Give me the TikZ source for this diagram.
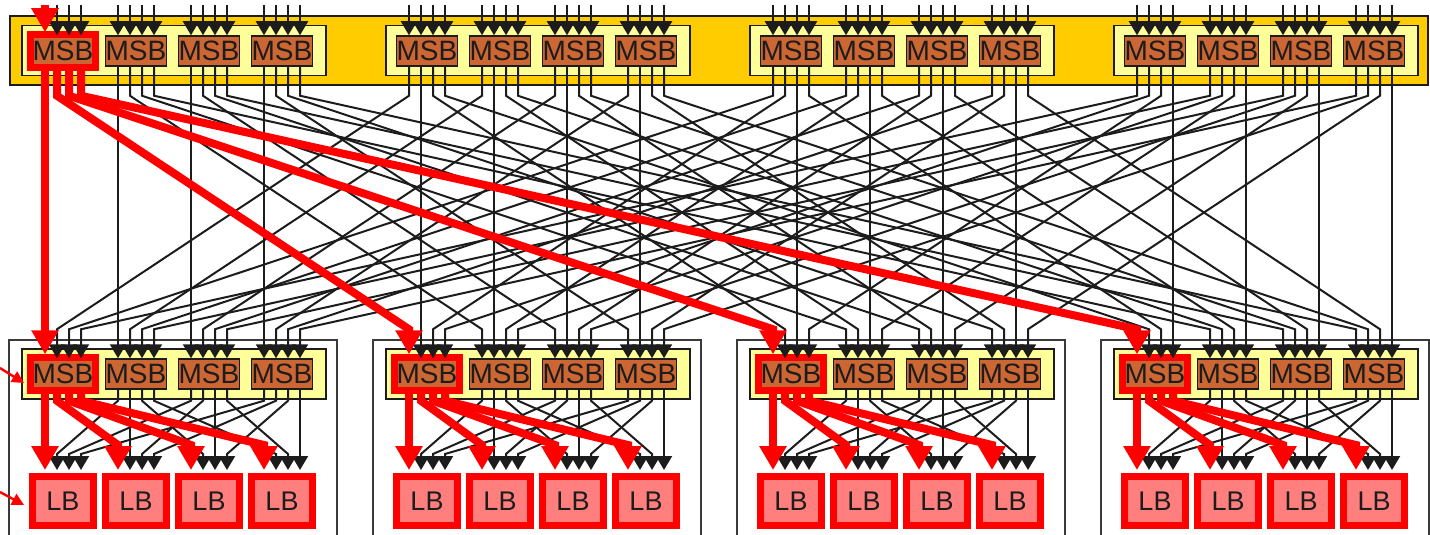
\documentclass[tikz,border=0pt]{standalone}
\usepackage{fontspec}
\setmainfont{Liberation Sans}
\usepackage{tikz}
\usetikzlibrary{arrows.meta,positioning,calc,fit}
\definecolor{Ink}{HTML}{1C1C1C}
\definecolor{Frame}{HTML}{3A3A3A}
\definecolor{Gold}{HTML}{FFCC00}
\definecolor{Pale}{HTML}{FFFF99}
\definecolor{Brick}{HTML}{CC6633}
\definecolor{Hot}{HTML}{FF0000}
\definecolor{Blush}{HTML}{FF7F7F}
\tikzset{
  bar/.style={draw=Ink,fill=Gold,line width=.75pt,minimum width=709pt,minimum height=34.5pt,inner sep=0pt},
  group/.style={draw=Ink,fill=Pale,line width=.75pt,minimum width=152pt,minimum height=25pt,inner sep=0pt},
  cluster/.style={draw=Frame,line width=.75pt},
  msb/.style={draw=Ink,fill=Brick,line width=.75pt,minimum width=30pt,minimum height=15pt,inner sep=0pt,text=Ink,font=\fontsize{14pt}{16pt}\selectfont},
  lb/.style={draw=Hot,fill=Blush,line width=3.5pt,minimum width=30.5pt,minimum height=24.5pt,inner sep=0pt,text=Ink,font=\fontsize{13.5pt}{16pt}\selectfont},
  hilite/.style={draw=Hot,line width=3.5pt,inner sep=.5pt},
  wire/.style={-{Triangle[length=7pt,width=8pt]},draw=Ink,line width=1pt},
  hotwire/.style={-{Triangle[length=12pt,width=13pt]},draw=Hot,line width=4pt},
  pointer/.style={-{Triangle[length=6pt,width=6pt]},draw=Hot,line width=1.2pt}
}
\begin{document}
\begin{tikzpicture}[x=.5pt,y=-.5pt]
  \clip (0,0) rectangle (1430,535);
  % top stage and the four clusters
  \node[bar] (top) at (719,50.5) {};
  \foreach \g in {0,...,3}{
    \pgfmathsetmacro{\gx}{22+364*\g}
    \draw[cluster] (\gx-13,340) rectangle (\gx+315,560);
    \node[group] (tgrp-\g) at (\gx+152,50.5) {};
    \node[group] (bgrp-\g) at (\gx+152,374) {};
    \foreach \m in {0,...,3}{
      \node[msb] (tmsb-\g-\m) at (\gx+41+73*\m,51) {MSB};
      \node[msb] (bmsb-\g-\m) at (\gx+41+73*\m,374) {MSB};
      \node[lb] (lb-\g-\m) at (\gx+41+73*\m,501) {LB};
      \coordinate (tin-\g-\m) at (\gx+41+73*\m,5);
    }
  }
  \node[hilite,fit=(tmsb-0-0)] (hl-top) {};
  \foreach \c in {0,...,3}
    \node[hilite,fit=(bmsb-\c-0)] (hl-\c) {};

  % black wires
  \foreach \g in {0,...,3}
  \foreach \m in {0,...,3}
  \foreach \k in {0,...,3}{
    \ifnum\g\m\k=0 \else
      \draw[wire] ($(tin-\g-\m)+(12*\k-18,0)$) -- ($(tmsb-\g-\m.north)+(12*\k-18,0)$);
    \fi
    \ifnum\g\m=0 \else
      \draw[wire] ($(tmsb-\g-\m.south)+(12*\k-18,0)$) -- ++(0,29)
        -- ($(bmsb-\k-\m.north)+(12*\g-18,-29)$) -- ($(bmsb-\k-\m.north)+(12*\g-18,0)$);
    \fi
    \ifnum\m=0 \else
      \draw[wire] ($(bmsb-\g-\m.south)+(12*\k-18,0)$) -- ++(0,11)
        -- ($(lb-\g-\k.north)+(12*\m-18,-19)$) -- ($(lb-\g-\k.north)+(12*\m-18,-3)$);
    \fi
  }

  % highlighted route
  \draw[hotwire] ($(tin-0-0)+(-18,0)$) -- ($(tmsb-0-0.north)+(-18,-3)$);
  \foreach \k in {0,...,3}
    \draw[hotwire] ($(tmsb-0-0.south)+(12*\k-18,0)$) -- ++(0,29)
      -- ($(bmsb-\k-0.north)+(-18,-29)$) -- ($(bmsb-\k-0.north)+(-18,-4)$);
  \foreach \c in {0,...,3}
  \foreach \k in {0,...,3}
    \draw[hotwire] ($(bmsb-\c-0.south)+(12*\k-18,0)$) -- ++(0,11)
      -- ($(lb-\c-\k.north)+(-18,-28)$) -- ($(lb-\c-\k.north)+(-18,-3)$);

  \coordinate (note-grp) at (0,368);
  \coordinate (note-grp-tip) at (24,383);
  \coordinate (note-lb) at (0,492);
  \coordinate (note-lb-tip) at (24,505);
  \draw[pointer] (note-grp) -- (note-grp-tip);
  \draw[pointer] (note-lb) -- (note-lb-tip);
\end{tikzpicture}
\end{document}
